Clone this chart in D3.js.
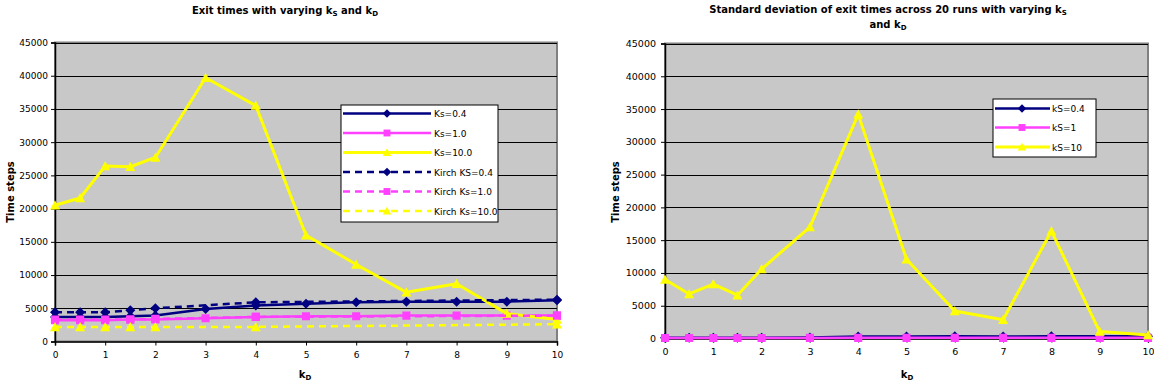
<!DOCTYPE html>
<html><head><meta charset="utf-8">
<script src="https://cdn.jsdelivr.net/npm/d3@7"></script>
<style>
body{margin:0;background:#fff}
svg{display:block}
text{font-family:"DejaVu Sans",Verdana,sans-serif;fill:#000}
</style>
</head><body>
<svg id="c" width="1154" height="387"></svg>
<script>
// ---------- data ----------
const kD = [0,0.5,1,1.5,2,3,4,5,6,7,8,9,10];
const kDKirch = [0,0.5,1,1.5,2,4,10];
const yTicks = [0,5000,10000,15000,20000,25000,30000,35000,40000,45000];
const xTicks = [0,1,2,3,4,5,6,7,8,9,10];

// Exit times (left chart)
const exitKs04 = [3700,3700,3700,3800,3900,4900,5400,5700,5900,6000,6000,6000,6200];
const exitKs10 = [3200,3200,3200,3300,3300,3500,3700,3800,3800,3900,3900,3900,3900];
const exitKs100 = [20500,21600,26400,26300,27700,39700,35500,16000,11600,7400,8700,4200,3300];
const kirchKs04 = [4400,4400,4400,4700,5000,5900,6300];
const kirchKs10 = [3300,3300,3300,3300,3400,3700,3900];
const kirchKs100 = [2200,2200,2200,2200,2200,2200,2600];

// Standard deviation (right chart)
const sdKs04 = [120,120,120,120,120,150,300,320,330,320,330,330,330];
const sdKs1 = [80,80,80,80,80,90,100,100,100,100,100,100,100];
const sdKs10 = [9000,6800,8300,6600,10600,17000,34200,12100,4200,2850,16400,1050,550];

const leftLabels = ["Ks=0.4","Ks=1.0","Ks=10.0","Kirch KS=0.4","Kirch Ks=1.0","Kirch Ks=10.0"];
const rightLabels = ["kS=0.4","kS=1","kS=10"];

const NAVY="#000080", PINK="#ff40ff", YEL="#ffff00";

const svg = d3.select("#c");

function markerPath(type, s){
  if(type==="diamond"){const r=s/2;return `M0,${-r}L${r},0L0,${r}L${-r},0Z`;}
  if(type==="square"){const r=s/2*0.9;return `M${-r},${-r}H${r}V${r}H${-r}Z`;}
  const w=s/2, h=s/2;
  return `M0,${-h}L${w},${h*0.85}L${-w},${h*0.85}Z`;
}

function chart(cfg){
  const g = svg.append("g");
  const x = d3.scaleLinear().domain([0,10]).range([cfg.x0,cfg.x1]);
  const y = d3.scaleLinear().domain([0,45000]).range([cfg.yb,cfg.yt]);
  // plot background
  g.append("rect").attr("x",cfg.x0).attr("y",cfg.yt).attr("width",cfg.x1-cfg.x0).attr("height",cfg.yb-cfg.yt)
   .attr("fill","#c8c8c8").attr("stroke","#808080").attr("stroke-width",2);
  // gridlines
  g.append("g").selectAll("line").data(yTicks.filter(d=>d>0)).join("line")
   .attr("x1",cfg.x0).attr("x2",cfg.x1).attr("y1",d=>Math.round(y(d))+0.5).attr("y2",d=>Math.round(y(d))+0.5)
   .attr("stroke","#000").attr("stroke-width",1);
  // axes
  const ya = g.append("g").attr("transform",`translate(${cfg.x0},0)`)
    .call(d3.axisLeft(y).tickValues(yTicks).tickSize(4).tickPadding(cfg.ypad).tickFormat(d3.format("d")));
  const xa = g.append("g").attr("transform",`translate(0,${cfg.yb})`)
    .call(d3.axisBottom(x).tickValues(xTicks).tickSize(4).tickPadding(cfg.xpad).tickFormat(d3.format("d")));
  [ya,xa].forEach(a=>{a.select(".domain").attr("stroke","#000").attr("stroke-width",1.5);
    a.selectAll(".tick line").attr("stroke","#000");
    a.selectAll("text").attr("font-size",cfg.tickFont).attr("font-family","DejaVu Sans").attr("fill","#000");});
  // series
  const clip = "clip"+cfg.id;
  svg.append("clipPath").attr("id",clip).append("rect")
    .attr("x",cfg.x0-8).attr("y",cfg.yt-8).attr("width",cfg.x1-cfg.x0+16).attr("height",cfg.yb-cfg.yt+16);
  const sg = g.append("g").attr("clip-path",`url(#${clip})`);
  cfg.series.forEach(s=>{
    const pts = s.xs.map((xv,i)=>[xv,s.vals[i]]);
    sg.append("path").datum(pts)
      .attr("d",d3.line().x(d=>x(d[0])).y(d=>y(d[1])))
      .attr("fill","none").attr("stroke",s.color).attr("stroke-width",s.width)
      .attr("stroke-dasharray",s.dash||null).attr("stroke-linejoin","round");
    sg.append("g").selectAll("path").data(pts).join("path")
      .attr("transform",d=>`translate(${x(d[0])},${y(d[1])})`)
      .attr("d",markerPath(s.marker,s.msize)).attr("fill",s.color);
  });
  // legend
  const L = cfg.legend;
  const lg = g.append("g");
  lg.append("rect").attr("x",L.x).attr("y",L.y).attr("width",L.w).attr("height",L.h)
    .attr("fill","#fff").attr("stroke","#000").attr("stroke-width",1);
  cfg.series.forEach((s,i)=>{
    const ry = L.rows[i];
    lg.append("line").attr("x1",L.lx0).attr("x2",L.lx1).attr("y1",ry).attr("y2",ry)
      .attr("stroke",s.color).attr("stroke-width",s.width).attr("stroke-dasharray",s.dash||null);
    lg.append("path").attr("transform",`translate(${L.mx},${ry})`).attr("d",markerPath(s.marker,s.msize*0.85)).attr("fill",s.color);
    lg.append("text").attr("x",L.tx).attr("y",ry+3.5).attr("font-size",9).text(cfg.labels[i]);
  });
  // axis titles
  g.append("text").attr("transform",`translate(${cfg.ytx},${cfg.yty}) rotate(-90)`)
    .attr("text-anchor","middle").attr("font-size",10).attr("font-weight","bold").text("Time steps");
  const kt = g.append("text").attr("x",cfg.kx).attr("y",cfg.ky).attr("text-anchor","middle")
    .attr("font-size",10).attr("font-weight","bold");
  kt.append("tspan").text("k");
  kt.append("tspan").attr("font-size",7).attr("dy",2).text("D");
  return g;
}

function subTitle(t, parts){
  parts.forEach(p=>{
    if(p.sub){t.append("tspan").attr("font-size",7).attr("dy",2).text(p.t);}
    else {t.append("tspan").attr("dy",p.after? -2:0).text(p.t);}
  });
}

chart({
  id:"L", x0:55, x1:557, yt:42.5, yb:341.5, ypad:3, xpad:6, tickFont:9,
  ytx:14, yty:192, kx:305, ky:378,
  labels:leftLabels,
  series:[
    {xs:kD, vals:exitKs04, color:NAVY, width:2.5, marker:"diamond", msize:10},
    {xs:kD, vals:exitKs10, color:PINK, width:2.5, marker:"square", msize:9},
    {xs:kD, vals:exitKs100, color:YEL, width:3, marker:"triangle", msize:10},
    {xs:kDKirch, vals:kirchKs04, color:NAVY, width:2.5, dash:"7,5", marker:"diamond", msize:10},
    {xs:kDKirch, vals:kirchKs10, color:PINK, width:2.5, dash:"7,5", marker:"square", msize:9},
    {xs:kDKirch, vals:kirchKs100, color:YEL, width:2.5, dash:"7,5", marker:"triangle", msize:10}
  ],
  legend:{x:341,y:105,w:157,h:117,rows:[113.5,133,152.5,172,191.5,211],lx0:343,lx1:431,mx:387,tx:434}
});

chart({
  id:"R", x0:665, x1:1148, yt:43.5, yb:338.5, ypad:5, xpad:6, tickFont:9.5,
  ytx:619, yty:192, kx:907, ky:378,
  labels:rightLabels,
  series:[
    {xs:kD, vals:sdKs04, color:NAVY, width:2.5, marker:"diamond", msize:10},
    {xs:kD, vals:sdKs1, color:PINK, width:2.5, marker:"square", msize:9},
    {xs:kD, vals:sdKs10, color:YEL, width:3, marker:"triangle", msize:10}
  ],
  legend:{x:993,y:99,w:103,h:58,rows:[108.5,127.5,147],lx0:995,lx1:1050,mx:1022,tx:1052}
});

// titles
const t1 = svg.append("text").attr("x",285).attr("y",14).attr("text-anchor","middle")
  .attr("font-size",10).attr("font-weight","bold");
subTitle(t1,[{t:"Exit times with varying k"},{t:"S",sub:true},{t:" and k",after:true},{t:"D",sub:true}]);
const t2 = svg.append("text").attr("x",888).attr("y",13).attr("text-anchor","middle")
  .attr("font-size",10).attr("font-weight","bold");
subTitle(t2,[{t:"Standard deviation of exit times across 20 runs with varying k"},{t:"S",sub:true}]);
const t3 = svg.append("text").attr("x",888).attr("y",28).attr("text-anchor","middle")
  .attr("font-size",10).attr("font-weight","bold");
subTitle(t3,[{t:"and k"},{t:"D",sub:true}]);
</script>
</body></html>
